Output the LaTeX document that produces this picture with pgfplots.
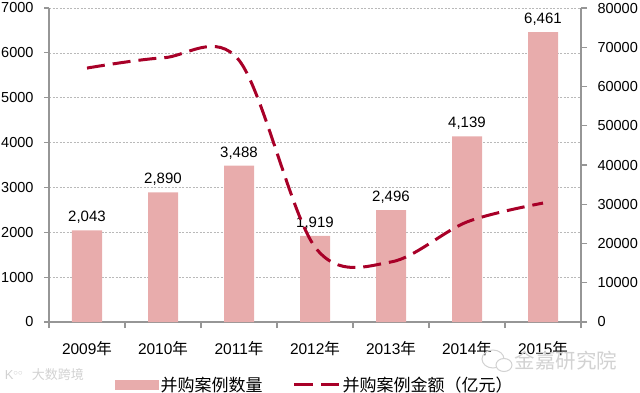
\documentclass[border=0pt]{standalone}
\usepackage{pgfplots}
\pgfplotsset{compat=1.18}
\usepackage{fontspec}
\setmainfont{Liberation Sans}
\newfontfamily\cjk{Noto Sans CJK SC}
\definecolor{barcol}{RGB}{232,172,172}
\definecolor{linecol}{RGB}{168,0,40}
\definecolor{axcol}{RGB}{150,150,150}
\definecolor{gridcol}{RGB}{185,185,185}
\definecolor{wmcol}{RGB}{210,210,210}
\newcommand\nian{{\cjk 年}}
\begin{document}
\begin{tikzpicture}
\useasboundingbox (-49pt,-70pt) rectangle (591pt,322pt);
\begin{axis}[
  at={(0pt,0pt)}, anchor=south west,
  scale only axis, width=532pt, height=314pt,
  xmin=-0.5, xmax=6.5, ymin=0, ymax=7000,
  axis x line*=bottom, axis y line*=left,
  axis line style={axcol, line width=1.2pt, -},
  xtick={0,...,6},
  xticklabels={2009\nian,2010\nian,2011\nian,2012\nian,2013\nian,2014\nian,2015\nian},
  minor xtick={-0.5,0.5,...,6.5},
  major x tick style={draw=none},
  minor x tick style={axcol, line width=1.2pt},
  minor tick length=6pt,
  major tick length=5pt,
  tick align=outside,
  ytick={0,1000,...,7000},
  ytick style={axcol, line width=1.2pt},
  ymajorgrids,
  grid style={gridcol, dash pattern=on 2pt off 1.5pt, line width=0.7pt},
  /pgf/number format/assume math mode=true,
  /pgf/number format/1000 sep={},
  scaled y ticks=false,
  yticklabel style={font=\fontsize{14.5}{16}\selectfont, text=black, xshift=-7pt},
  xticklabel style={font=\fontsize{15.5}{18}\selectfont, text=black, yshift=-11pt},
  clip=false,
]
\addplot[ybar, bar width=30pt, fill=barcol, draw=none,
  nodes near coords={\pgfmathprintnumber[assume math mode=true,1000 sep={,}]{\pgfplotspointmeta}},
  every node near coord/.append style={font=\fontsize{15}{18}\selectfont, text=black, yshift=3pt}]
  coordinates {(0,2043)(1,2890)(2,3488)(3,1919)(4,2496)(5,4139)(6,6461)};
\end{axis}
\begin{axis}[
  at={(0pt,0pt)}, anchor=south west,
  scale only axis, width=532pt, height=314pt,
  xmin=-0.5, xmax=6.5, ymin=0, ymax=80000,
  axis y line*=right, axis x line=none,
  axis line style={axcol, line width=1.2pt, -},
  ytick={0,10000,...,80000},
  ytick style={axcol, line width=1.2pt},
  major tick length=6pt,
  tick align=outside,
  /pgf/number format/assume math mode=true,
  /pgf/number format/1000 sep={},
  scaled y ticks=false,
  yticklabel style={font=\fontsize{14.5}{16}\selectfont, text=black, xshift=7pt},
  clip=false,
  legend style={at={(0.5,-0.2)}, anchor=center, draw=none, fill=none,
    font=\cjk\fontsize{17}{20}\selectfont, legend columns=2,
    /tikz/every even column/.append style={column sep=28pt}},
]
\addlegendimage{legend image code/.code={\fill[barcol] (0pt,-4.5pt) rectangle (43pt,4.5pt);}}
\addlegendentry{并购案例数量}
\addplot[linecol, line width=3pt, dash pattern=on 18pt off 8pt, smooth, tension=0.55,
  legend image code/.code={\draw[linecol, line width=3pt, dash pattern=on 19pt off 8pt] (0pt,0pt) -- (45pt,0pt);}]
  coordinates {(0,64700)(1,67300)(2,66700)(3,19100)(4,15300)(5,25500)(6,30300)};
\addlegendentry{并购案例金额（亿元）}
\end{axis}
\node[text=wmcol, font=\cjk\fontsize{20.5}{24}\selectfont] at (517pt,-39pt) {金嘉研究院};
\draw[wmcol, line width=1pt] (444pt,-37pt) ellipse (11pt and 9pt);
\draw[wmcol, line width=1pt, fill=white] (455pt,-43pt) ellipse (8pt and 6.5pt);
\node[text=wmcol, font=\cjk\fontsize{13}{15}\selectfont] at (9pt,-53pt) {大数跨境};
\node[text=wmcol, font=\fontsize{13}{15}\selectfont] at (-35pt,-53pt) {K$^{\circ\circ}$};
\end{tikzpicture}
\end{document}
